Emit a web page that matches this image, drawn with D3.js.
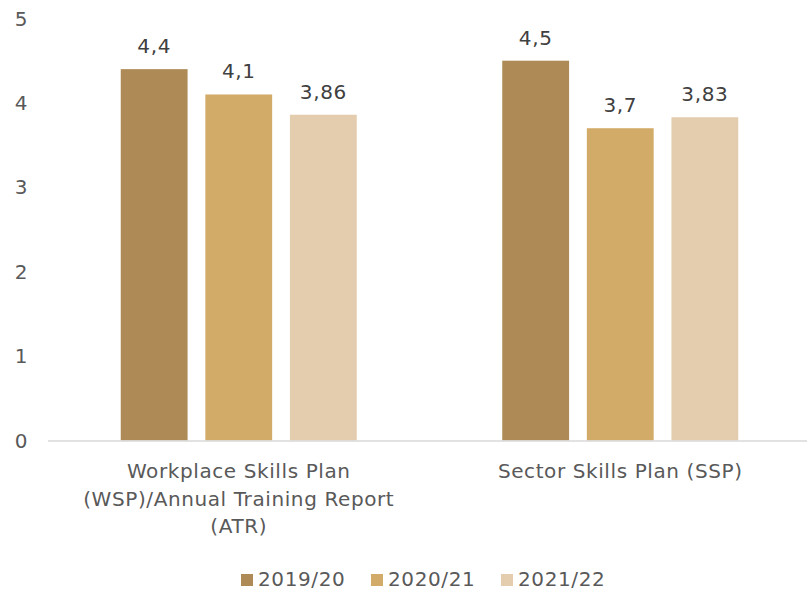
<!DOCTYPE html>
<html>
<head>
<meta charset="utf-8">
<script src="https://cdn.jsdelivr.net/npm/d3@7"></script>
<style>
  html, body { margin: 0; padding: 0; background: #fff; }
  svg text { font-family: "DejaVu Sans", sans-serif; fill: #595959; letter-spacing: 0.6px; }
</style>
</head>
<body>
<svg id="chart" width="807" height="590"></svg>
<script>
// Categories (each label split into lines)
const categories = ["WSP/ATR", "SSP"];
const categoryLines = [
  ["Workplace Skills Plan", "(WSP)/Annual Training Report", "(ATR)"],
  ["Sector Skills Plan (SSP)"]
];
const seriesNames = ["2019/20", "2020/21", "2021/22"];
const values2019 = [4.4, 4.5];
const values2020 = [4.1, 3.7];
const values2021 = [3.86, 3.83];
const valueLabels2019 = ["4,4", "4,5"];
const valueLabels2020 = ["4,1", "3,7"];
const valueLabels2021 = ["3,86", "3,83"];
const yTicks = [0, 1, 2, 3, 4, 5];

const colors = ["#AD8A56", "#D3AB69", "#E4CDAE"];
const seriesValues = [values2019, values2020, values2021];
const seriesLabels = [valueLabels2019, valueLabels2020, valueLabels2021];

const svg = d3.select("#chart");

const y = d3.scaleLinear().domain([0, 5]).range([440.5, 18.5]);
const x0 = d3.scaleBand().domain(categories).range([48, 811])
  .paddingInner(0.3814).paddingOuter(0.1907);
const x1 = d3.scaleBand().domain(seriesNames).range([0, x0.bandwidth()])
  .paddingInner(0.21).paddingOuter(0);

// Y axis tick labels
svg.append("g").selectAll("text").data(yTicks).join("text")
  .attr("x", 28).attr("y", d => y(d))
  .attr("dy", "0.35em")
  .attr("text-anchor", "end")
  .style("font-size", "20px")
  .text(d => d);

// Bars
const groups = svg.append("g").selectAll("g").data(categories).join("g")
  .attr("transform", d => `translate(${x0(d)},0)`);

seriesNames.forEach((s, si) => {
  groups.append("rect")
    .attr("x", x1(s))
    .attr("width", x1.bandwidth())
    .attr("y", (d, i) => y(seriesValues[si][i]))
    .attr("height", (d, i) => y(0) - y(seriesValues[si][i]))
    .attr("fill", colors[si]);
  groups.append("text")
    .attr("x", x1(s) + x1.bandwidth() / 2)
    .attr("y", (d, i) => y(seriesValues[si][i]) - 16)
    .attr("text-anchor", "middle")
    .style("font-size", "20px")
    .style("fill", "#404040")
    .text((d, i) => seriesLabels[si][i]);
});

// Baseline
svg.append("line")
  .attr("x1", 48).attr("x2", 807)
  .attr("y1", y(0) + 0.5).attr("y2", y(0) + 0.5)
  .attr("stroke", "#d9d9d9").attr("stroke-width", 1.5);

// Category labels
categories.forEach((c, i) => {
  const cx = x0(c) + x0.bandwidth() / 2;
  const t = svg.append("text").attr("text-anchor", "middle").style("font-size", "20px");
  categoryLines[i].forEach((line, li) => {
    t.append("tspan").attr("x", cx).attr("y", 478 + li * 27.5).text(line);
  });
});

// Legend
const legendX = [241, 371, 501];
const legend = svg.append("g").selectAll("g").data(seriesNames).join("g")
  .attr("transform", (d, i) => `translate(${legendX[i]},574)`);
legend.append("rect").attr("width", 12).attr("height", 12)
  .attr("fill", (d, i) => colors[i]);
legend.append("text").attr("x", 17).attr("y", 12)
  .style("font-size", "20px").text(d => d);
</script>
</body>
</html>
